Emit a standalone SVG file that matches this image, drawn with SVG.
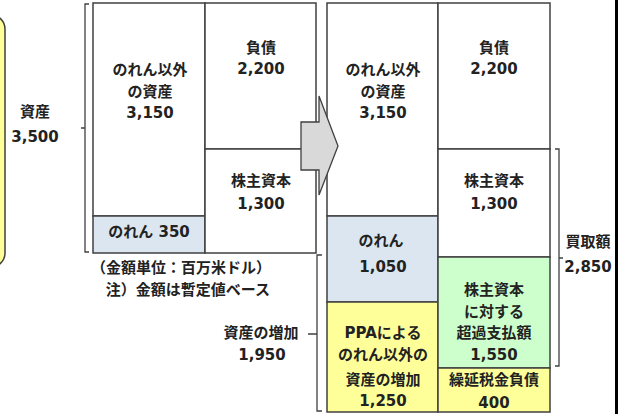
<svg xmlns="http://www.w3.org/2000/svg" width="621" height="414" viewBox="0 0 621 414">
<style>
.b{stroke:#404040;stroke-width:1.5}
.w{fill:#ffffff}
.bl{fill:#dce6f1}
.y{fill:#ffff99}
.g{fill:#ccffcc}
.br{fill:none;stroke:#404040;stroke-width:1.3}
text{font-family:"DejaVu Sans","Noto Sans CJK JP",sans-serif;font-weight:bold;font-size:15px;fill:#222;text-anchor:middle}
</style>
<rect x="0" y="0" width="621" height="414" fill="#ffffff"/>
<g id="side-note">
<rect x="-40" y="15" width="45" height="252" rx="14" fill="#ffff99" stroke="#404040" stroke-width="1.5"/>
</g>
<g id="assets-label">
<text x="35" y="117">資産</text>
<text x="35" y="142">3,500</text>
</g>
<g id="before">
<g id="b-other-assets"><rect class="b w" x="93" y="3" width="112" height="213"/>
<text x="150" y="75">のれん以外</text><text x="150" y="97">の資産</text><text x="150" y="118">3,150</text></g>
<g id="b-goodwill"><rect class="b bl" x="93" y="216" width="112" height="37"/>
<text x="149" y="237">のれん 350</text></g>
<g id="b-liab"><rect class="b w" x="205" y="3" width="111" height="146"/>
<text x="261" y="53">負債</text><text x="261" y="74">2,200</text></g>
<g id="b-equity"><rect class="b w" x="205" y="149" width="111" height="104"/>
<text x="261" y="186">株主資本</text><text x="261" y="209">1,300</text></g>
</g>
<g id="notes">
<text x="181" y="273">（金額単位：百万米ドル）</text>
<text x="188" y="295">注）金額は暫定値ベース</text>
</g>
<g id="after">
<g id="a-other-assets"><rect class="b w" x="327" y="3" width="111" height="213"/>
<text x="383" y="75">のれん以外</text><text x="383" y="97">の資産</text><text x="383" y="118">3,150</text></g>
<g id="a-goodwill"><rect class="b bl" x="327" y="216" width="111" height="86"/>
<text x="381" y="246">のれん</text><text x="383" y="272">1,050</text></g>
<g id="a-ppa"><rect class="b y" x="327" y="302" width="111" height="110"/>
<text x="383" y="338">PPAによる</text><text x="383" y="360">のれん以外の</text><text x="383" y="385">資産の増加</text><text x="383" y="406">1,250</text></g>
<g id="a-liab"><rect class="b w" x="438" y="3" width="112" height="146"/>
<text x="494" y="53">負債</text><text x="494" y="74">2,200</text></g>
<g id="a-equity"><rect class="b w" x="438" y="149" width="112" height="108"/>
<text x="494" y="186">株主資本</text><text x="494" y="209">1,300</text></g>
<g id="a-excess"><rect class="b g" x="438" y="257" width="112" height="111"/>
<text x="494" y="295">株主資本</text><text x="494" y="317">に対する</text><text x="494" y="338">超過支払額</text><text x="494" y="360">1,550</text></g>
<g id="a-dtl"><rect class="b y" x="438" y="368" width="112" height="44"/>
<text x="494" y="385">繰延税金負債</text><text x="494" y="408">400</text></g>
</g>
<g id="arrow">
<polygon points="301,122 319,122 319,96 338,146 319,195 319,170 301,170" fill="#d9d9d9" stroke="#404040" stroke-width="1.3"/>
</g>
<g id="connectors">
<path class="br" d="M89,4 H85 V252 H89 M85,128 H81"/>
<path class="br" d="M555,149 H559 V366 H555 M559,258 H563"/>
<path class="br" d="M322,255 H317 V411 H322 M317,334 H308"/>
</g>
<g id="increase-label">
<text x="261" y="338">資産の増加</text>
<text x="262" y="360">1,950</text>
</g>
<g id="price-label">
<text x="588" y="247">買取額</text>
<text x="588" y="272">2,850</text>
</g>
<rect x="615" y="0" width="3" height="414" fill="#000000"/>
</svg>
